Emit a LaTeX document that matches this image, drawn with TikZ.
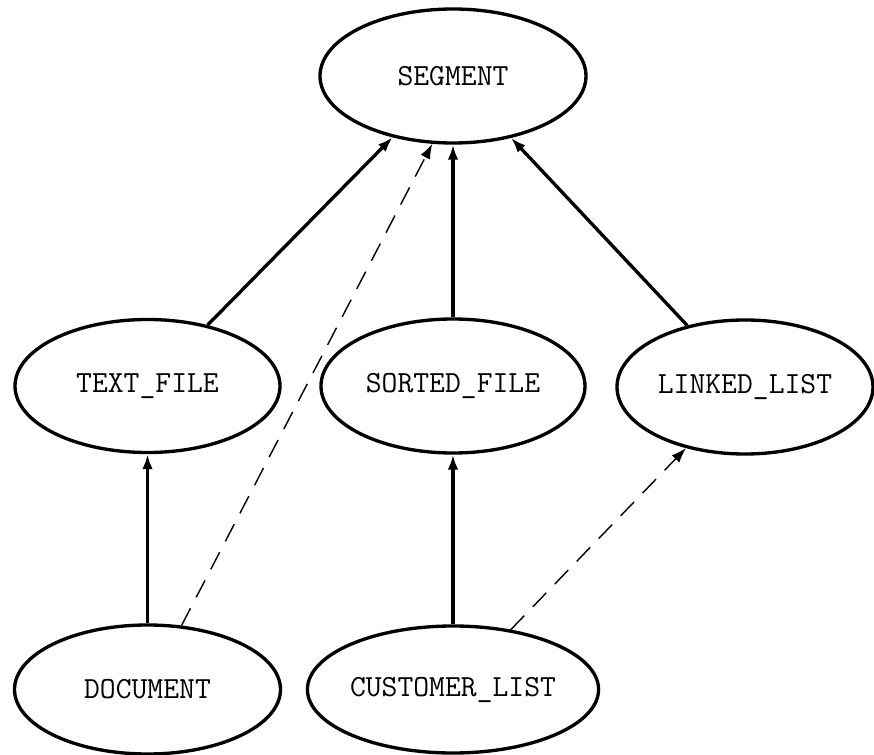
\documentclass[tikz,border=0pt]{standalone}
\usepackage{fontspec}
\usepackage{tikz}
\usetikzlibrary{arrows, arrows.meta, shapes}
\tikzset{>={Latex[length=8.5pt, width=6pt]}}
\tikzset{entity/.style = {draw, ellipse, line width = 1.9pt, inner sep = 0pt,
    font = \ttfamily\fontsize{17.5}{20}\selectfont}}
\tikzset{isa/.style = {->, line width = 1.9pt}}
\tikzset{uses/.style = {->, line width = 0.8pt, dash pattern = on 11pt off 7pt}}

\begin{document}
\begin{tikzpicture}
\useasboundingbox (0, 0) rectangle (17.48, -15.10);
\node[entity, minimum width = 5.32cm, minimum height = 2.68cm] (seg) at (9.06, -1.52) {SEGMENT};
\node[entity, minimum width = 5.3cm, minimum height = 2.66cm] (tf) at (2.95, -7.72) {TEXT\_FILE};
\node[entity, minimum width = 5.28cm, minimum height = 2.68cm] (sf) at (9.06, -7.72) {SORTED\_FILE};
\node[entity, minimum width = 5.12cm, minimum height = 2.68cm] (ll) at (14.9, -7.74) {LINKED\_LIST};
\node[entity, minimum width = 5.32cm, minimum height = 2.58cm] (doc) at (2.95, -13.79) {DOCUMENT};
\node[entity, minimum width = 5.32cm, minimum height = 2.54cm] (cl) at (9.06, -13.79) {CUSTOMER\_LIST};

% solid arrows
\draw[isa] (tf) -- (seg);
\draw[isa] (sf) -- (seg);
\draw[isa] (ll) -- (seg);
\draw[isa] (doc) -- (tf);
\draw[isa] (cl) -- (sf);

% dashed arrows
\draw[uses] (doc.62) -- (seg.253);
\draw[uses] (cl) -- (ll);
\end{tikzpicture}
\end{document}
